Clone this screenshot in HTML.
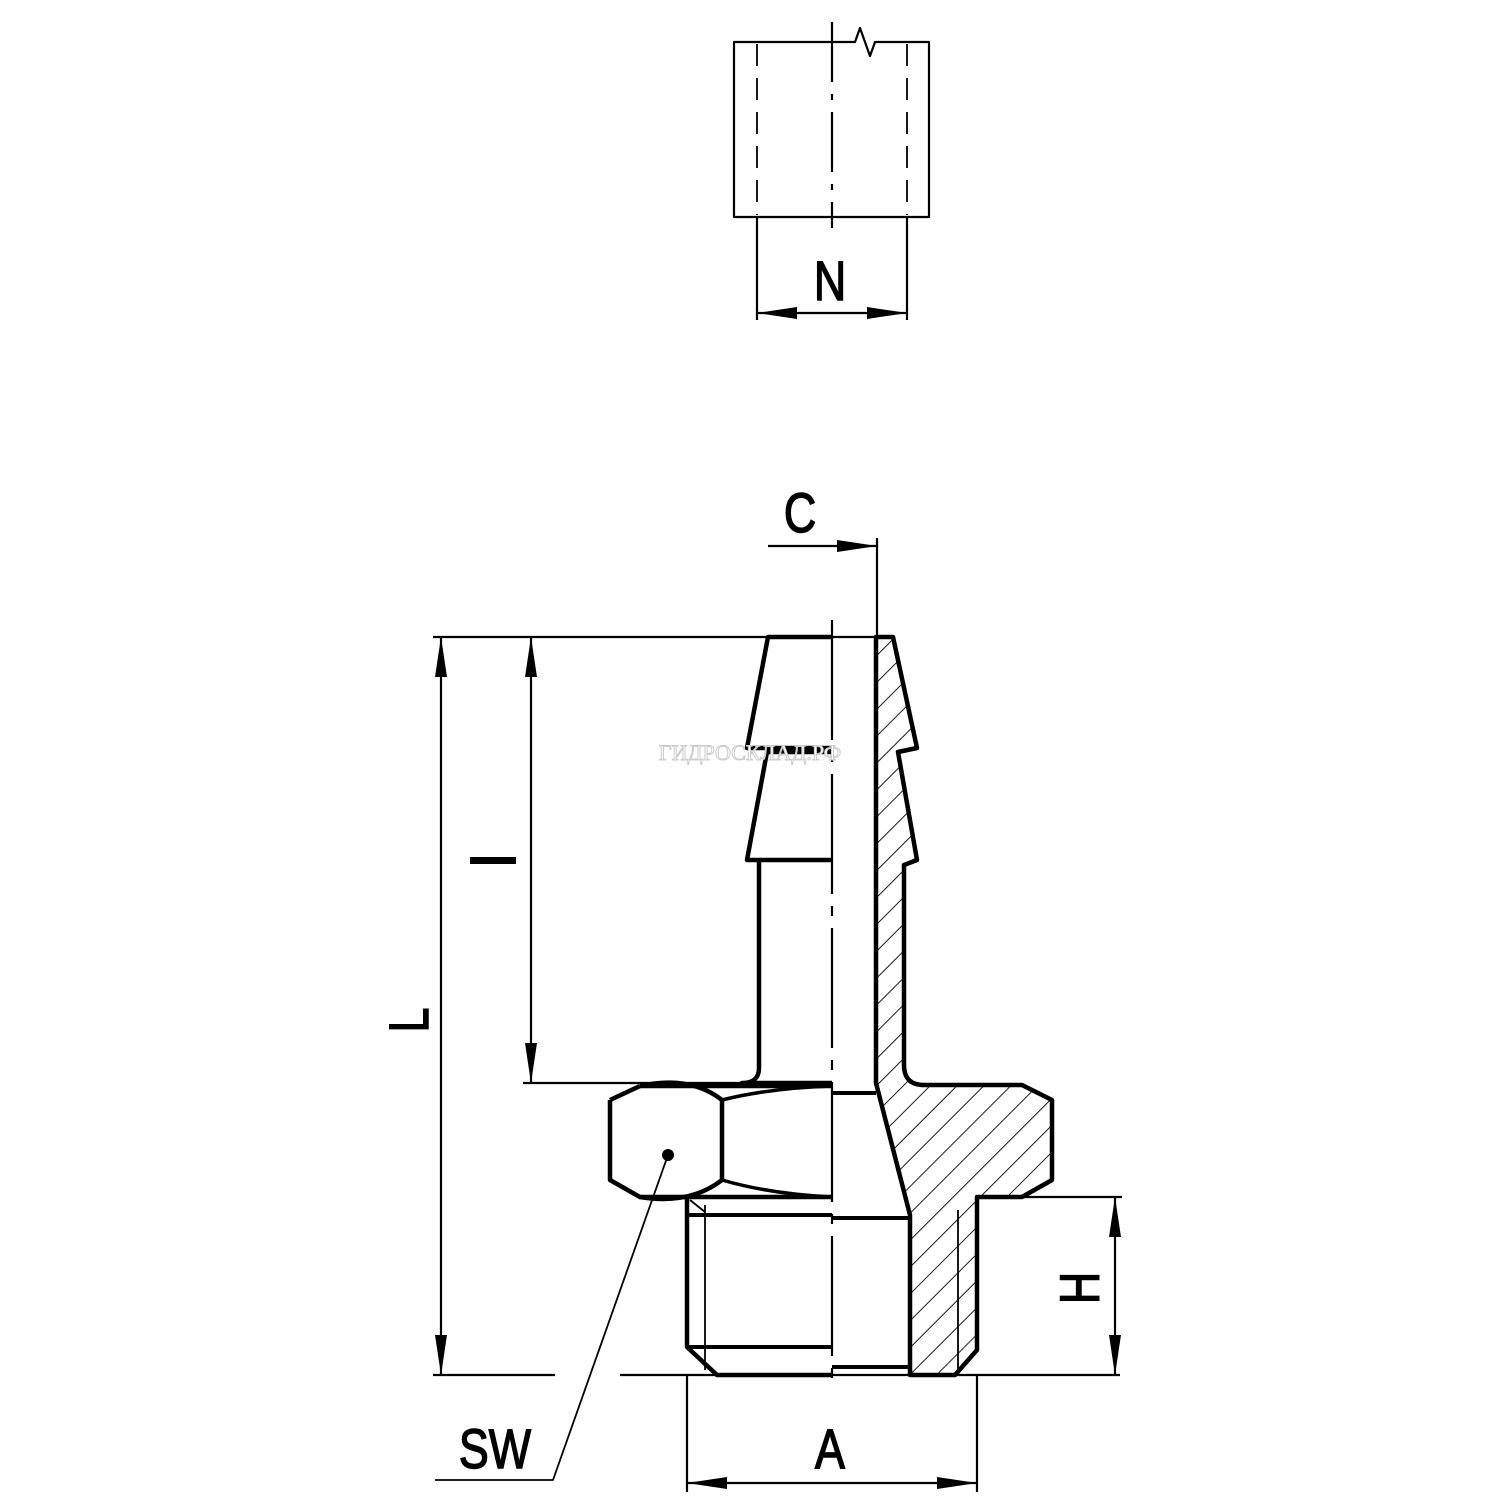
<!DOCTYPE html>
<html><head><meta charset="utf-8"><style>html,body{margin:0;padding:0;background:#fff}svg{display:block}</style></head>
<body>
<svg width="1500" height="1500" viewBox="0 0 1500 1500" xmlns="http://www.w3.org/2000/svg">
<defs>
<pattern id="h" patternUnits="userSpaceOnUse" width="19" height="19" patternTransform="rotate(45)">
<line x1="0" y1="0" x2="0" y2="19" stroke="#000" stroke-width="1.8"/>
</pattern>
<marker id="a" viewBox="0 0 40 12" refX="40" refY="6" markerWidth="40" markerHeight="12" markerUnits="userSpaceOnUse" orient="auto-start-reverse">
<path d="M0,0 L40,6 L0,12 Z" fill="#000"/>
</marker>
</defs>
<g fill="none" stroke="#000" stroke-linejoin="round">
<!-- top view -->
<path d="M734,42 H855 L860,28 L870,56 L875,42 H929 V217 H734 Z" stroke-width="2.2"/>
<line x1="757" y1="44" x2="757" y2="215" stroke-width="1.8" stroke-dasharray="22,12"/>
<line x1="907" y1="44" x2="907" y2="215" stroke-width="1.8" stroke-dasharray="22,12"/>
<line x1="832" y1="22" x2="832" y2="228" stroke-width="2.2" stroke-dasharray="60,12,6,12"/>
<line x1="757" y1="217" x2="757" y2="320" stroke-width="2.2"/>
<line x1="907" y1="217" x2="907" y2="320" stroke-width="2.2"/>
<line x1="757" y1="313" x2="907" y2="313" stroke-width="2.2" marker-start="url(#a)" marker-end="url(#a)"/>

<!-- hatch region -->
<path d="M876,637 H893 L917,748 L898,752 L917,860 L904,865 V1065 Q904,1085 924,1085 H1022 L1052,1100 V1180 L1022,1197 H977 V1350 L955,1375 H910 V1215 L876,1083 Z" fill="url(#h)" stroke="none"/>
<path d="M876,637 H893 L917,748 L898,752 L917,860 L904,865 V1065 Q904,1085 924,1085 H1022 L1052,1100 V1180 L1022,1197 H977 V1350 L955,1375 H910 V1215 L876,1083 Z" stroke-width="4.5"/>
<line x1="958" y1="1210" x2="958" y2="1375" stroke-width="1.8"/>

<!-- left barb -->
<path d="M832,637 H768 L747,748 H832" stroke-width="4.5"/>
<path d="M832,752 H767 L747,860 H832" stroke-width="4.5"/>
<path d="M759,860 V1068 Q759,1083 742,1083 H832" stroke-width="4.5"/>
<line x1="832" y1="1093" x2="876" y2="1093" stroke-width="4"/>
<!-- hex -->
<path d="M640,1086 H832 M610,1100 L640,1086 M610,1100 V1180 L640,1197 H832" stroke-width="4.5"/>
<path d="M640,1086 Q690,1075 722,1100 V1180 Q690,1205 640,1197" stroke-width="4.5"/>
<path d="M722,1100 Q770,1088 832,1086 M722,1180 Q770,1194 832,1197" stroke-width="3.5"/>
<!-- thread -->
<path d="M687,1197 V1347 L717,1375 H832" stroke-width="4.5"/>
<line x1="687" y1="1215" x2="832" y2="1215" stroke-width="4"/>
<line x1="687" y1="1347" x2="832" y2="1347" stroke-width="4"/>
<line x1="705" y1="1205" x2="705" y2="1370" stroke-width="1.8"/>
<line x1="690" y1="1200" x2="705" y2="1212" stroke-width="1.8"/>
<line x1="832" y1="1218" x2="910" y2="1218" stroke-width="4"/>
<line x1="832" y1="1367" x2="910" y2="1367" stroke-width="4"/>
<!-- centerline -->
<line x1="832" y1="620" x2="832" y2="1390" stroke-width="2.2" stroke-dasharray="120,12,10,12"/>

<!-- dims -->
<line x1="433" y1="637" x2="876" y2="637" stroke-width="2.2"/>
<line x1="441" y1="637" x2="441" y2="1375" stroke-width="2.2" marker-start="url(#a)" marker-end="url(#a)"/>
<line x1="531" y1="637" x2="531" y2="1083" stroke-width="2.2" marker-start="url(#a)" marker-end="url(#a)"/>
<line x1="523" y1="1083" x2="745" y2="1083" stroke-width="2.2"/>
<line x1="433" y1="1375" x2="555" y2="1375" stroke-width="2.2"/>
<line x1="620" y1="1375" x2="1120" y2="1375" stroke-width="2.2"/>
<line x1="980" y1="1197" x2="1122" y2="1197" stroke-width="2.2"/>
<line x1="1115" y1="1197" x2="1115" y2="1375" stroke-width="2.2" marker-start="url(#a)" marker-end="url(#a)"/>
<line x1="687" y1="1375" x2="687" y2="1492" stroke-width="2.2"/>
<line x1="977" y1="1375" x2="977" y2="1492" stroke-width="2.2"/>
<line x1="687" y1="1483" x2="977" y2="1483" stroke-width="2.2" marker-start="url(#a)" marker-end="url(#a)"/>
<line x1="877" y1="538" x2="877" y2="637" stroke-width="2.2"/>
<line x1="768" y1="546" x2="877" y2="546" stroke-width="2.2" marker-end="url(#a)"/>
<path d="M668,1155 L553,1480 H435" stroke-width="1.8"/>
</g>
<circle cx="668" cy="1155" r="6" fill="#000"/>
<g font-family="Liberation Sans, sans-serif" font-size="56" fill="#000" stroke="#000" stroke-width="1.5" text-anchor="middle">
<text x="830" y="300" transform="translate(830 0) scale(0.8 1) translate(-830 0)">N</text>
<text x="800" y="532" transform="translate(800 0) scale(0.8 1) translate(-800 0)">C</text>
<text x="830" y="1468" transform="translate(830 0) scale(0.8 1) translate(-830 0)">A</text>
<text x="495" y="1468" transform="translate(495 0) scale(0.8 1) translate(-495 0)">SW</text>
<text transform="translate(428 1020) rotate(-90) scale(0.8 1)" x="0" y="0">L</text>
<text transform="translate(1099 1288) rotate(-90) scale(0.8 1)" x="0" y="0">H</text>
</g>
<rect x="470" y="857" width="46" height="7" fill="#000"/>
<text x="750" y="760" font-family="Liberation Serif, serif" font-size="22" fill="#fff" stroke="#ccc" stroke-width="1" text-anchor="middle">ГИДРОСКЛАД.РФ</text>
</svg>
</body></html>
